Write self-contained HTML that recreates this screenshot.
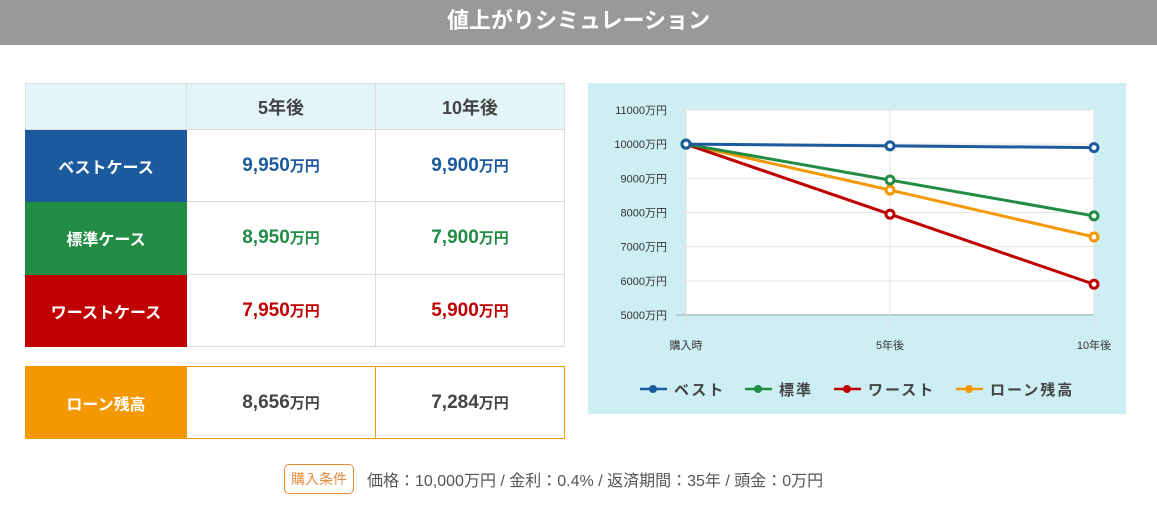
<!DOCTYPE html>
<html><head><meta charset="utf-8">
<style>
body{margin:0;width:1157px;height:506px;background:#fff;font-family:"Liberation Sans","Noto Sans CJK JP",sans-serif;position:relative;overflow:hidden}
.hdr{position:absolute;left:0;top:0;width:1157px;height:45px;background:#999;color:#fff;font-size:22px;font-weight:bold;text-align:center;line-height:42px}
table{position:absolute;border-collapse:collapse;left:25px}
td{border:1px solid #ddd;text-align:center;font-weight:bold;padding:0}
.lab{color:#fff;font-size:16px;width:160px}
.v{font-size:19px;width:188px}
.v small{font-size:15px}
.note{position:absolute;top:464px;left:284px;font-size:16px;color:#555;display:flex;align-items:center}
.tag{border:1px solid #e8893a;color:#e8893a;border-radius:5px;padding:4px 6px;font-size:14px;margin-right:13px}
</style></head><body>
<div class="hdr">値上がりシミュレーション</div>
<table style="top:83px">
<tr style="height:46px;background:#e3f5f8"><td style="width:160px"></td><td class="v" style="color:#444;font-size:18px">5年後</td><td class="v" style="color:#444;font-size:18px">10年後</td></tr>
<tr style="height:72px"><td class="lab" style="background:#1c5a9e;border-color:#1c5a9e">ベストケース</td><td class="v" style="color:#1c5a9e">9,950<small>万円</small></td><td class="v" style="color:#1c5a9e">9,900<small>万円</small></td></tr>
<tr style="height:73px"><td class="lab" style="background:#228b44;border-color:#228b44">標準ケース</td><td class="v" style="color:#228b44">8,950<small>万円</small></td><td class="v" style="color:#228b44">7,900<small>万円</small></td></tr>
<tr style="height:72px"><td class="lab" style="background:#c00000;border-color:#c00000">ワーストケース</td><td class="v" style="color:#c00000">7,950<small>万円</small></td><td class="v" style="color:#c00000">5,900<small>万円</small></td></tr>
</table>
<table style="top:366px">
<tr style="height:72px"><td class="lab" style="background:#f39800;border-color:#f39800">ローン残高</td><td class="v" style="color:#444;border-color:#f39800">8,656<small>万円</small></td><td class="v" style="color:#444;border-color:#f39800">7,284<small>万円</small></td></tr>
</table>
<svg id="chart" style="position:absolute;left:588px;top:83px" width="538" height="331"></svg>
<div class="note"><span class="tag">購入条件</span>価格：10,000万円 / 金利：0.4% / 返済期間：35年 / 頭金：0万円</div>
<script>
const categories=["購入時","5年後","10年後"];
const seriesNames=["ベスト","標準","ワースト","ローン残高"];
const bestValues=[10000,9950,9900];
const standardValues=[10000,8950,7900];
const worstValues=[10000,7950,5900];
const loanValues=[10000,8656,7284];
const yTicks=[5000,6000,7000,8000,9000,10000,11000];
const colors=["#1c5a9e","#228b44","#c00000","#f39800"];
const NS="http://www.w3.org/2000/svg";
const svg=document.getElementById('chart');
function mk(t,a,p){const e=document.createElementNS(NS,t);for(const k in a)e.setAttribute(k,a[k]);(p||svg).appendChild(e);return e;}
const x0=98,x1=506,yTop=27,yBot=232;
const xs=i=>x0+(x1-x0)*i/(categories.length-1);
const ys=v=>yBot-(v-5000)/6000*(yBot-yTop);
mk('rect',{x:0,y:0,width:538,height:331,fill:'#cdeef2'});
let r=mk('rect',{x:x0,y:yTop,width:x1-x0,height:yBot-yTop,fill:'#fff'});

yTicks.forEach(v=>{
 const l=mk('line',{x1:x0-10,x2:x1,y1:ys(v),y2:ys(v),stroke:v==5000?'#b5cdd2':'#e6e6e6','stroke-width':v==5000?2:1});
 
 const t=mk('text',{x:x0-19,y:ys(v)+4,'text-anchor':'end','font-size':11,fill:'#333'});t.textContent=v+'万円';
 
});
categories.forEach((c,i)=>{
 const l=mk('line',{x1:xs(i),x2:xs(i),y1:yTop,y2:yBot+12,stroke:'#e0e0e0'});
 
 const t=mk('text',{x:xs(i),y:266,'text-anchor':'middle','font-size':11,fill:'#333'});t.textContent=c;
 
});
const all=[bestValues,standardValues,worstValues,loanValues];
[3,2,1,0].forEach(s=>{
 const vals=all[s];
 const pl=mk('polyline',{points:vals.map((v,i)=>xs(i)+','+ys(v)).join(' '),fill:'none',stroke:colors[s],'stroke-width':3});
 
 vals.forEach((v,i)=>{
  const c=mk('circle',{cx:xs(i),cy:ys(v),r:4,fill:'#fff',stroke:colors[s],'stroke-width':3});
  
 });
});
const lx=[52,157,246,368];
seriesNames.forEach((n,s)=>{
 const g=mk('g',{});
 
 mk('line',{x1:lx[s],x2:lx[s]+27,y1:306,y2:306,stroke:colors[s],'stroke-width':2.5},g);
 mk('circle',{cx:lx[s]+13,cy:306,r:4,fill:colors[s]},g);
 const t=mk('text',{x:lx[s]+34,y:312,'font-size':15,'font-weight':'bold',fill:'#444','letter-spacing':2},g);t.textContent=n;
});
</script>
</body></html>
